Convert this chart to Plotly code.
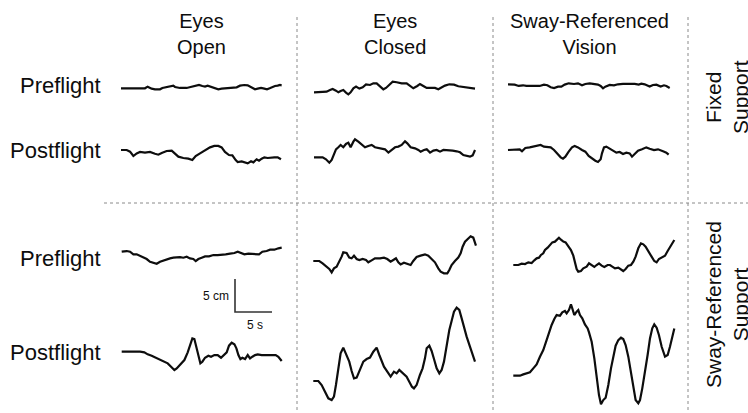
import plotly.graph_objects as go

# ---------------------------------------------------------------------------
# Centre-of-pressure sway traces (time in s, sway in cm, relative to start)
# ---------------------------------------------------------------------------

# Fixed support, eyes open
eo_fix_pre_t = [0, 3.24, 3.6, 4.14, 4.59, 5.27, 5.59, 6.17, 6.85, 7.07, 7.3, 7.97, 8.87, 9.46, 10.0,
                10.54, 10.99, 11.35, 11.71, 12.03, 12.34, 12.79, 13.15, 13.6, 14.28, 14.95, 15.63,
                16.08, 16.67, 17.12, 17.48, 17.88, 18.11, 18.47, 18.92, 19.37, 19.73, 20.09, 20.5,
                20.81, 21.17, 21.49, 21.71]
eo_fix_pre_v = [0, 0, 0.25, -0.05, -0.15, -0.15, 0.05, 0.15, 0.25, 0.4, 0.2, 0.05, 0.05, 0.25, 0.4,
                0.5, 0.35, 0.25, 0.4, 0.3, 0.15, 0.05, -0.15, -0.05, 0.05, 0.1, 0.15,
                0.4, 0.5, 0.45, 0.2, -0.05, -0.15, -0.05, 0.05, -0.05, -0.15, 0.0, 0.2,
                0.35, 0.4, 0.5, 0.45]
eo_fix_post_t = [0, 0.77, 1.22, 1.67, 2.12, 2.57, 3.24, 3.92, 4.59, 5.05, 5.5, 6.17, 6.85, 7.3, 7.75,
                 8.42, 9.1, 9.64, 10.09, 10.68, 11.35, 12.03, 12.61, 13.15, 13.6, 14.05, 14.59, 15.05,
                 15.5, 15.77, 16.31, 16.76, 17.12, 17.57, 17.88, 18.33, 18.65, 19.01, 19.37, 19.82,
                 20.27, 20.72, 21.17, 21.62]
eo_fix_post_v = [0, 0, -0.25, -0.91, -0.51, -0.3, -0.4, -0.3, -0.56, -0.71, -0.45, -0.15, -0.1, -0.51, -1.01,
                 -1.21, -1.31, -1.52, -0.91, -0.51, 0, 0.4, 0.61, 0.61, 0.4, -0.3, -0.76, -0.81,
                 -1.52, -1.82, -1.72, -1.87, -2.02, -1.72, -1.87, -1.41, -1.62, -1.31, -1.11, -1.21,
                 -1.11, -1.11, -1.11, -1.41]

# Fixed support, eyes closed
ec_fix_pre_t = [0, 1.26, 1.71, 2.16, 2.52, 2.97, 3.29, 3.6, 3.96, 4.32, 4.64, 4.95, 5.32, 5.68, 6.13,
                6.58, 7.03, 7.57, 8.02, 8.47, 8.92, 9.37, 9.73, 10.18, 10.63, 11.17, 11.85, 12.52,
                12.97, 13.42, 13.96, 14.32, 14.77, 15.23, 15.9, 16.35, 16.8, 17.25, 17.7, 18.29,
                18.92, 19.5, 20.18, 20.86, 21.31, 21.76]
ec_fix_pre_v = [0, 0, 0.1, 0.35, 0.51, 0.25, 0, 0.2, 0.35, -0.05, -0.3, 0, 0.61, 0.86, 0.56,
                0.76, 1.21, 1.11, 1.36, 1.36, 0.86, 0.45, 0.66, 1.16, 1.62, 1.52, 1.36, 1.36,
                0.96, 0.61, 0.96, 1.26, 0.96, 0.66, 0.66, 0.66, 0.45, 0.76, 1.01, 1.21,
                1.16, 0.91, 0.81, 0.76, 0.71, 0.56]
ec_fix_post_t = [0, 1.17, 1.62, 2.07, 2.39, 2.7, 2.97, 3.29, 3.6, 3.96, 4.32, 4.64, 4.95, 5.32, 5.54,
                 5.99, 6.44, 6.89, 7.34, 7.79, 8.24, 8.92, 9.59, 10.05, 10.5, 10.95, 11.4, 11.85,
                 12.3, 12.61, 13.06, 13.65, 14.1, 14.41, 14.86, 15.23, 15.68, 16.13, 16.58, 17.03,
                 17.48, 18.15, 18.74, 19.28, 19.73, 20.18, 20.63, 21.08, 21.44, 21.76]
ec_fix_post_v = [0, 0, -0.3, -0.81, -0.4, 0.35, 1.21, 1.52, 1.87, 1.52, 2.02, 2.22, 1.52, 2.37, 2.73,
                 2.37, 1.87, 1.52, 1.72, 1.87, 1.52, 1.36, 1.21, 0.71, 1.11, 1.52, 1.62, 1.87,
                 2.42, 2.12, 1.52, 1.36, 1.11, 0.86, 1.11, 1.21, 0.71, 1.01, 1.11, 0.86,
                 1.11, 1.11, 1.01, 0.91, 0.76, 0.35, 0.2, 0.1, 0.3, 1.11]

# Fixed support, sway-referenced vision
srv_fix_pre_t = [0, 0.9, 1.44, 2.03, 2.48, 3.15, 3.69, 4.28, 4.86, 5.32, 5.77, 6.22, 6.76, 7.21, 7.66,
                 8.2, 8.92, 9.46, 10.0, 10.45, 11.04, 11.62, 12.16, 12.52, 12.84, 13.15, 13.74, 14.32,
                 14.86, 15.54, 16.13, 16.76, 17.12, 17.66, 18.02, 18.47, 18.83, 19.14, 19.59, 20.05,
                 20.63, 21.08, 21.4, 21.71, 21.85]
srv_fix_pre_v = [0, -0.05, -0.25, -0.15, -0.25, -0.25, -0.15, -0.25, -0.05, -0.15, -0.45, -0.56, -0.35, -0.35, -0.05,
                 0.15, 0.05, 0.15, -0.15, 0.05, 0.15, 0.05, -0.05, -0.25, -0.61, -0.35, -0.1, -0.15,
                 0, 0.05, 0.05, 0.15, 0.05, -0.05, 0.1, 0, -0.15, -0.35, -0.1, -0.05,
                 -0.35, -0.15, -0.25, -0.45, -0.56]
srv_fix_post_t = [0, 0.99, 1.58, 1.89, 2.34, 2.93, 3.51, 4.05, 4.41, 4.86, 5.32, 5.77, 6.22, 6.67, 7.12,
                  7.43, 7.75, 8.2, 8.65, 9.01, 9.46, 10.0, 10.45, 10.9, 11.35, 11.8, 12.16, 12.52,
                  12.7, 12.97, 13.29, 13.74, 14.19, 14.64, 15.09, 15.54, 15.99, 16.44, 16.76, 17.12,
                  17.57, 18.11, 18.69, 19.14, 19.73, 20.27, 20.63, 20.95, 21.4, 21.71]
srv_fix_post_v = [0, 0, 0.1, -0.2, 0.3, 0.4, 0.51, 0.61, 0.76, 0.51, 0.4, 0.4, 0, -0.61, -1.11,
                  -1.31, -1.01, -0.25, 0.4, 0.61, 0.4, 0, -0.25, -0.91, -1.31, -1.62, -1.82, -1.41,
                  -0.51, 0.4, 0.51, 0.25, -0.1, -0.4, -0.3, -0.61, -0.4, -0.51, -1.01, -0.61,
                  -0.1, 0.1, 0.4, 0.2, 0, 0.1, 0, -0.2, -0.4, -0.71]

# Sway-referenced support, eyes open
eo_sr_pre_t = [0, 0.68, 1.13, 1.58, 2.03, 2.48, 2.93, 3.38, 3.83, 4.28, 4.73, 5.18, 5.63, 6.08, 6.53,
               6.98, 7.43, 7.88, 8.33, 8.78, 9.23, 9.68, 10.0, 10.36, 10.81, 11.26, 11.8, 12.39,
               12.97, 13.51, 14.05, 14.64, 15.23, 15.68, 16.13, 16.58, 17.12, 17.57, 18.11, 18.56,
               19.01, 19.59, 20.05, 20.63, 21.17, 21.62]
eo_sr_pre_v = [0, 0.1, 0, -0.4, -0.4, -0.61, -0.81, -1.11, -1.52, -1.67, -1.82, -1.52, -1.31, -1.21, -1.01,
               -0.91, -0.86, -0.81, -0.91, -0.76, -1.01, -1.11, -1.41, -1.11, -0.91, -0.71, -0.71, -0.51,
               -0.51, -0.4, -0.4, -0.3, -0.2, 0, -0.2, -0.4, -0.3, -0.3, -0.4, -0.4,
               0, 0.1, 0.3, 0.3, 0.51, 0.61]
eo_sr_post_t = [0, 1.13, 1.8, 2.48, 3.06, 3.51, 4.05, 4.59, 5.05, 5.63, 6.22, 6.67, 7.12, 7.43, 7.88,
                8.47, 8.92, 9.28, 9.55, 9.82, 10.09, 10.36, 10.63, 10.9, 11.26, 11.71, 12.07, 12.52,
                12.97, 13.42, 13.87, 14.19, 14.5, 14.86, 15.23, 15.5, 15.77, 16.04, 16.31, 16.67,
                17.03, 17.34, 17.66, 18.02, 18.38, 18.92, 19.59, 20.27, 20.81, 21.17, 21.62]
eo_sr_post_v = [0, 0, 0.1, 0, -0.1, -0.4, -0.61, -0.91, -1.11, -1.41, -1.77, -2.27, -2.78, -2.53, -2.02,
                -1.26, -0.1, 1.26, 2.02, 1.92, 0.76, -0.76, -1.77, -1.52, -0.91, -0.61, -0.76, -0.51,
                -0.51, -0.91, -0.51, -0.1, 0.91, 1.36, 1.11, 0.51, -0.51, -1.11, -0.91, -1.11,
                -0.51, -1.01, -0.76, -0.51, -0.4, -0.51, -0.51, -0.51, -0.51, -0.76, -1.41]

# Sway-referenced support, eyes closed
ec_sr_pre_t = [0, 0.81, 1.26, 1.71, 2.16, 2.48, 2.79, 3.15, 3.51, 3.83, 4.05, 4.5, 4.86, 5.18, 5.5,
               5.86, 6.22, 6.67, 7.12, 7.43, 7.88, 8.33, 9.01, 9.55, 10.0, 10.45, 10.81, 11.17,
               11.49, 11.8, 12.25, 12.7, 13.15, 13.51, 13.96, 14.5, 15.09, 15.54, 15.99, 16.44,
               16.89, 17.21, 17.66, 18.11, 18.38, 18.69, 19.14, 19.59, 19.91, 20.18, 20.5, 20.81,
               21.26, 21.62, 21.98]
ec_sr_pre_v = [0, 0, -0.35, -0.71, -1.21, -1.72, -1.11, -0.86, -0.1, 0.66, 1.31, 1.21, 0.51, 0.4, 0.81,
               0.3, 0.15, 0.3, 0.15, -0.2, 0.1, 0.4, 0.4, 0.51, 0.3, -0.1, 0.15, 0.4,
               -0.2, -0.51, -0.25, -0.4, -0.61, 0, 0.61, 0.81, 1.01, 0.81, 0.3, -0.2,
               -1.11, -1.62, -1.87, -1.87, -1.36, -0.61, 0, 0.51, 1.16, 2.17, 2.93, 3.33,
               3.74, 3.54, 2.32]
ec_sr_post_t = [0, 0.68, 1.13, 1.58, 2.03, 2.48, 2.79, 3.06, 3.38, 3.69, 4.05, 4.41, 4.86, 5.18, 5.5,
                5.86, 6.31, 6.76, 7.21, 7.66, 8.11, 8.56, 8.92, 9.23, 9.55, 10.0, 10.45, 10.9,
                11.26, 11.62, 12.16, 12.61, 12.97, 13.33, 13.6, 13.96, 14.41, 14.77, 15.09, 15.32,
                15.68, 15.99, 16.31, 16.67, 17.03, 17.34, 17.66, 18.02, 18.38, 18.69, 19.01, 19.37,
                19.73, 20.05, 20.36, 20.72, 21.17, 21.53, 21.85]
ec_sr_post_v = [0, 0, -0.61, -1.62, -2.63, -2.88, -2.37, -0.61, 2.17, 4.19, 5.05, 4.19, 2.93, 1.52, 0.4,
                0.51, 1.82, 2.93, 3.33, 3.54, 4.44, 5.05, 3.94, 2.93, 2.17, 1.41, 0.66, 1.41,
                1.16, 1.67, 1.16, 0.66, -0.1, -0.86, -1.11, -0.61, 0.91, 1.92, 3.43, 4.95,
                5.35, 4.55, 3.33, 1.92, 1.16, 1.67, 2.93, 5.45, 7.73, 9.09, 10.51, 11.11,
                10.76, 9.49, 7.98, 6.72, 5.2, 3.94, 2.93]

# Sway-referenced support, sway-referenced vision
srv_sr_pre_t = [0, 0.68, 1.13, 1.58, 2.03, 2.48, 2.84, 3.15, 3.47, 3.74, 4.05, 4.28, 4.64, 4.95, 5.27,
                5.63, 5.99, 6.17, 6.44, 6.76, 7.07, 7.43, 7.79, 8.11, 8.33, 8.56, 8.78, 9.14,
                9.46, 9.91, 10.23, 10.59, 10.95, 11.26, 11.58, 11.94, 12.3, 12.75, 13.06, 13.38,
                13.74, 14.19, 14.55, 14.86, 15.18, 15.54, 15.9, 16.22, 16.53, 16.89, 17.25, 17.57,
                17.88, 18.24, 18.69, 19.05, 19.37, 19.68, 20.05, 20.5, 20.86, 21.17, 21.49, 21.76]
srv_sr_pre_v = [0, 0, 0.2, 0.15, 0.4, 0.3, 0.71, 1.01, 1.11, 1.52, 1.77, 2.27, 2.63, 3.03, 3.43,
                3.54, 3.94, 4.14, 3.84, 3.54, 3.43, 2.93, 2.27, 1.41, 0.51, -0.61, -1.01, -0.91,
                -0.51, -0.25, 0.25, -0.1, -0.3, 0, 0.25, -0.1, -0.3, 0, 0, -0.25,
                -0.51, -0.4, -0.61, -0.91, -0.61, -0.1, 0, 0.51, 1.26, 2.53, 3.28, 3.13,
                2.78, 2.02, 1.26, 0.61, 0.4, 0.91, 1.11, 1.41, 2.12, 2.63, 3.28, 3.79]
srv_sr_post_t = [0, 0.9, 1.35, 1.8, 2.25, 2.7, 3.15, 3.6, 4.05, 4.5, 4.82, 5.18, 5.54, 5.86, 6.31,
                 6.62, 6.98, 7.21, 7.52, 7.79, 7.97, 8.24, 8.56, 8.78, 9.01, 9.32, 9.68, 10.05,
                 10.23, 10.59, 10.95, 11.26, 11.58, 11.85, 12.16, 12.48, 12.84, 13.2, 13.51, 13.83,
                 14.19, 14.55, 14.86, 15.18, 15.54, 15.9, 16.22, 16.53, 16.89, 17.12, 17.43, 17.79,
                 18.15, 18.47, 18.78, 19.05, 19.37, 19.68, 20.05, 20.5, 20.86, 21.17, 21.49, 21.76]
srv_sr_post_v = [0, 0, 0.2, 0.35, 0.51, 1.11, 1.72, 2.88, 3.89, 5.4, 6.67, 7.68, 8.59, 9.19, 9.09,
                 9.6, 9.8, 9.44, 9.95, 10.81, 10.2, 9.19, 9.7, 9.95, 9.19, 8.69, 7.78, 7.17,
                 6.57, 5.15, 2.63, -0.4, -2.93, -4.34, -3.69, -3.33, -1.41, 1.11, 3.13, 4.55,
                 5.4, 5.76, 5.56, 4.65, 2.88, 0.61, -1.92, -3.69, -4.19, -3.69, -1.92, 0.35,
                 3.13, 5.65, 7.17, 7.78, 7.27, 6.16, 4.39, 2.88, 3.13, 4.39, 5.91, 7.17]

# Calibration bar: 5 cm vertical, 5 s horizontal
scale_t = [0, 0, 5]
scale_v = [5, 0, 0]

column_titles = ["Eyes<br>Open", "Eyes<br>Closed", "Sway-Referenced<br>Vision"]
row_titles = ["Fixed<br>Support", "Sway-Referenced<br>Support"]
session_labels = ["Preflight", "Postflight", "Preflight", "Postflight"]

# ---------------------------------------------------------------------------
# Page geometry (pixels) and the shared physical scale of every panel
# ---------------------------------------------------------------------------
FIG_W, FIG_H = 748, 413
PX_PER_S = 7.4
PX_PER_CM = 6.6
T_RANGE = (-0.5, 22.5)
V_RANGE = (-4.6, 11.6)

# (time, sway, origin x px, origin y px) for each panel
panels = [
    (eo_fix_pre_t, eo_fix_pre_v, 121.0, 88.3),
    (eo_fix_post_t, eo_fix_post_v, 121.0, 150.0),
    (ec_fix_pre_t, ec_fix_pre_v, 314.0, 92.3),
    (ec_fix_post_t, ec_fix_post_v, 314.0, 157.3),
    (srv_fix_pre_t, srv_fix_pre_v, 508.0, 84.3),
    (srv_fix_post_t, srv_fix_post_v, 508.0, 150.0),
    (eo_sr_pre_t, eo_sr_pre_v, 121.7, 251.7),
    (eo_sr_post_t, eo_sr_post_v, 121.7, 351.7),
    (ec_sr_pre_t, ec_sr_pre_v, 313.3, 261.0),
    (ec_sr_post_t, ec_sr_post_v, 313.3, 381.0),
    (srv_sr_pre_t, srv_sr_pre_v, 513.3, 265.0),
    (srv_sr_post_t, srv_sr_post_v, 513.3, 375.7),
    (scale_t, scale_v, 235.0, 312.0),
]

TEXT_FONT = "Liberation Sans, Arial, Helvetica, sans-serif"
INK = "#0d0d0d"


def px_x(x):
    return x / FIG_W


def px_y(y):
    return 1 - y / FIG_H


fig = go.Figure()
layout_axes = {}
for i, (t, v, ox, oy) in enumerate(panels, start=1):
    suffix = "" if i == 1 else str(i)
    is_scale = i == len(panels)
    fig.add_trace(go.Scatter(
        x=t, y=v, mode="lines",
        line=dict(color="#333333" if is_scale else INK, width=1.6 if is_scale else 2.2),
        xaxis="x" + suffix, yaxis="y" + suffix,
        hoverinfo="skip", showlegend=False,
    ))
    left = ox + T_RANGE[0] * PX_PER_S
    right = ox + T_RANGE[1] * PX_PER_S
    top = oy - V_RANGE[1] * PX_PER_CM
    bottom = oy - V_RANGE[0] * PX_PER_CM
    layout_axes["xaxis" + suffix] = dict(
        domain=[px_x(left), px_x(right)], range=list(T_RANGE),
        anchor="y" + suffix, visible=False, fixedrange=True,
    )
    layout_axes["yaxis" + suffix] = dict(
        domain=[px_y(bottom), px_y(top)], range=list(V_RANGE),
        anchor="x" + suffix, visible=False, fixedrange=True,
    )

# Dotted dividers between the conditions
divider = dict(color="#8a8a8a", width=1, dash="dot")
shapes = []
for xv in (297, 493, 688):
    shapes.append(dict(type="line", xref="paper", yref="paper",
                       x0=px_x(xv), x1=px_x(xv), y0=px_y(17), y1=0, line=divider))
shapes.append(dict(type="line", xref="paper", yref="paper",
                   x0=px_x(104), x1=1, y0=px_y(203), y1=px_y(203), line=divider))

annotations = []
for title, cx in zip(column_titles, (201, 395, 589)):
    annotations.append(dict(text=title, x=px_x(cx), y=px_y(34), xref="paper", yref="paper",
                            showarrow=False, xanchor="center", yanchor="middle",
                            font=dict(family=TEXT_FONT, size=20, color=INK)))
for label, cy in zip(session_labels, (86, 150, 258, 352)):
    annotations.append(dict(text=label, x=px_x(103), y=px_y(cy), xref="paper", yref="paper",
                            showarrow=False, xanchor="right", yanchor="middle",
                            font=dict(family=TEXT_FONT, size=22, color=INK)))
for label, cy in zip(row_titles, (97, 305)):
    annotations.append(dict(text=label, x=px_x(727), y=px_y(cy), xref="paper", yref="paper",
                            showarrow=False, xanchor="center", yanchor="middle", textangle=-90,
                            font=dict(family=TEXT_FONT, size=21, color=INK)))
annotations.append(dict(text="5 cm", x=px_x(231), y=px_y(296), xref="paper", yref="paper",
                        showarrow=False, xanchor="right", yanchor="middle",
                        font=dict(family=TEXT_FONT, size=12, color=INK)))
annotations.append(dict(text="5 s", x=px_x(255), y=px_y(325), xref="paper", yref="paper",
                        showarrow=False, xanchor="center", yanchor="middle",
                        font=dict(family=TEXT_FONT, size=12, color=INK)))

fig.update_layout(
    width=FIG_W, height=FIG_H,
    margin=dict(l=0, r=0, t=0, b=0),
    paper_bgcolor="white", plot_bgcolor="rgba(0,0,0,0)",
    shapes=shapes, annotations=annotations,
    **layout_axes,
)

fig.write_html("out.html", config=dict(displayModeBar=False))
